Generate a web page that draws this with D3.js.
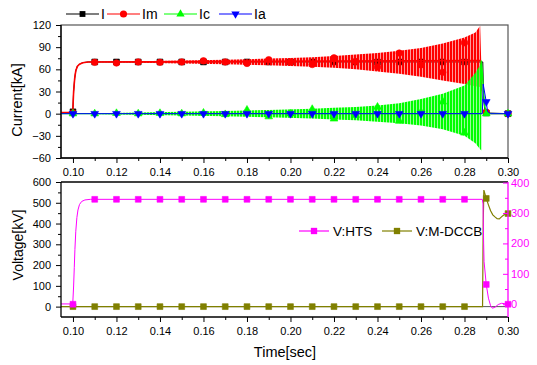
<!DOCTYPE html>
<html>
<head>
<meta charset="utf-8">
<script src="https://cdn.jsdelivr.net/npm/d3@7/dist/d3.min.js"></script>
<style>
html, body { margin: 0; padding: 0; background: #fff; }
svg { display: block; font-family: "Liberation Sans", Arial, sans-serif; }
</style>
</head>
<body>
<svg id="chart" width="537" height="365"></svg>
<script>
// ---------- data ----------
// sample times of the plotted markers [s]
const markerTimes = [0.10,0.11,0.12,0.13,0.14,0.15,0.16,0.17,0.18,0.19,0.20,0.21,0.22,0.23,0.24,0.25,0.26,0.27,0.28,0.29,0.30];
const timeTicks   = [0.10,0.12,0.14,0.16,0.18,0.20,0.22,0.24,0.26,0.28,0.30];
const timeMinor   = [0.11,0.13,0.15,0.17,0.19,0.21,0.23,0.25,0.27,0.29];
const currentTicks = [-60,-30,0,30,60,90,120];
const voltageTicks = [0,100,200,300,400,500,600];
const htsTicks     = [0,100,200,300,400];

// current markers [kA]
const iMarkers  = [2.5,70,70,70,70,70,70,70,70,70,70,70,70,70,70,70,70,70,70,1,0];
const imMarkers = [1,69.5,68.6,70,69.5,70,71.5,70,68,73,70,66.5,75.5,70.5,63,82,66,56,96,2,0];
const icMarkers = [0,0,0.5,0,0.5,0,1,-1,5,-4,0,6,-7,-2,9,-10,2,16,-26,0,0];
const iaMarkers = [0,0,0,0,0,0,0,0,0,0,0,0,0,0,0,0,0,0,0,16,0];

// total current I [kA]
const iTime = [0.0945,0.0999,0.1003,0.1008,0.1013,0.102,0.103,0.1045,0.107,0.11,0.2884,0.2888,0.2895,0.30];
const iVal  = [1.5,1.5,30,48,58,64,67,69,70,70,70,20,1,0];

// Im: mean trace, oscillation envelope and tail [kA]
const imTime = [0.0945,0.0999,0.1003,0.1008,0.1013,0.102,0.103,0.1045,0.107,0.11,0.2872];
const imVal  = [1.5,1.5,30,48,58,64,67,69,70,70,72];
const imEnvTime  = [0.11,0.13,0.15,0.17,0.19,0.20,0.21,0.22,0.23,0.24,0.25,0.26,0.27,0.28,0.285,0.2872,0.2878,0.2885];
const imEnvUpper = [70.5,71,72,73,74.5,75.5,76.5,78,80,82,85,89,95,103,110,119,60,5];
const imEnvLower = [69.5,69,68,67,65.5,64.5,63.5,62,60,57,54,50,45,40,37,36,30,5];
const imTailTime = [0.2885,0.289,0.29,0.2915,0.30];
const imTailVal  = [5,3,2,0,0];

// Ic: envelope, mean trace and tail [kA]
const icEnvTime  = [0.10,0.13,0.15,0.17,0.19,0.21,0.22,0.23,0.24,0.25,0.26,0.27,0.28,0.285,0.2872,0.2877];
const icEnvUpper = [0,1.5,2.5,3.5,5,6.5,8,9,11,14,20,27,38,55,66,72];
const icEnvLower = [0,-1.5,-2.5,-3.5,-5,-6.5,-8,-9,-11,-13,-16,-21,-30,-40,-48,-50];
const icTime = [0.0945,0.2875,0.2877,0.2882,0.2887,0.2893,0.29,0.291,0.30];
const icVal  = [0,0,72,55,30,10,2,0,0];

// Ia [kA]
const iaTime = [0.0945,0.2882,0.2886,0.29,0.2906,0.292,0.30];
const iaVal  = [0,0,40,16,3,0,0];

// voltages [kV]
const htsTime = [0.0945,0.0999,0.1003,0.1006,0.1009,0.1013,0.1018,0.1023,0.103,0.104,0.1055,0.108,0.11,0.2882,0.2885,0.2888,0.289,0.29,0.291,0.292,0.2928,0.294,0.2955,0.297,0.2985,0.30];
const htsVal  = [1,1,60,120,180,240,285,310,328,338,343,345,345,345,330,200,140,65,20,-5,-13,-10,-1,3,2,0];
const htsMarkers = [0,345,345,345,345,345,345,345,345,345,345,345,345,345,345,345,345,345,345,65,0];

const dccbTime = [0.0945,0.2883,0.2886,0.2889,0.29,0.291,0.292,0.293,0.294,0.295,0.296,0.297,0.298,0.30];
const dccbVal  = [0,0,400,561,521,490,462,442,432,423,422,432,441,448];
const dccbMarkers = [0,0,0,0,0,0,0,0,0,0,0,0,0,0,0,0,0,0,0,521,448];

// ---------- setup ----------
const svg = d3.select("#chart");
const zip = (a, b) => a.map((v, i) => [v, b[i]]);

const L = 61, R = 508;
const x = d3.scaleLinear().domain([0.0945, 0.30]).range([L, R]);
const yCur  = d3.scaleLinear().domain([-60, 120]).range([158, 25]);
const yVolt = d3.scaleLinear().domain([-50, 600]).range([317, 182]);
const yHts  = d3.scaleLinear().domain([-42, 402]).range([317, 182]);

const COL = { I: "#000000", Im: "#ff0000", Ic: "#00ff00", Ia: "#0000ff", hts: "#ff00ff", dccb: "#808000" };

// stripe patterns used to render the dense oscillation bands
const defs = svg.append("defs");
[["stripeIm", COL.Im], ["stripeIc", COL.Ic]].forEach(([id, c]) => {
  const p = defs.append("pattern").attr("id", id).attr("patternUnits", "userSpaceOnUse")
    .attr("width", 3).attr("height", 10);
  p.append("rect").attr("x", 0).attr("y", 0).attr("width", 2.4).attr("height", 10).attr("fill", c);
});

function styleAxis(g, size) {
  g.selectAll("text").attr("font-size", size || 11).attr("fill", "#000");
  g.selectAll("line").attr("stroke", "#000");
}

function drawXAxis(yPos) {
  const gMaj = svg.append("g").attr("transform", `translate(0,${yPos})`)
    .call(d3.axisBottom(x).tickValues(timeTicks).tickSize(5).tickPadding(5).tickFormat(d3.format(".2f")));
  gMaj.select(".domain").remove();
  styleAxis(gMaj);
  const gMin = svg.append("g").attr("transform", `translate(0,${yPos})`)
    .call(d3.axisBottom(x).tickValues(timeMinor).tickSize(3).tickFormat(""));
  gMin.select(".domain").remove();
  styleAxis(gMin);
  svg.append("line").attr("x1", L).attr("x2", R).attr("y1", yPos).attr("y2", yPos)
    .attr("stroke", "#000").attr("stroke-width", 1.3);
}

function drawYAxis(scale, ticks, minorStep, xPos, side, color) {
  const axisFn = side === "left" ? d3.axisLeft : d3.axisRight;
  const dir = side === "left" ? 1 : -1; // right axis ticks point inward
  const gMaj = svg.append("g").attr("transform", `translate(${xPos},0)`)
    .call(axisFn(scale).tickValues(ticks).tickSize(5 * dir).tickPadding(side === "left" ? 5 : 3));
  gMaj.select(".domain").remove();
  gMaj.selectAll("text").attr("font-size", 11).attr("fill", color);
  gMaj.selectAll("line").attr("stroke", color);
  const minor = [];
  for (let v = ticks[0] + minorStep; v < ticks[ticks.length - 1]; v += 2 * minorStep) minor.push(v);
  const gMin = svg.append("g").attr("transform", `translate(${xPos},0)`)
    .call(axisFn(scale).tickValues(minor).tickSize(3 * dir).tickFormat(""));
  gMin.select(".domain").remove();
  gMin.selectAll("line").attr("stroke", color);
  const r = scale.range();
  svg.append("line").attr("x1", xPos).attr("x2", xPos).attr("y1", r[0]).attr("y2", r[1])
    .attr("stroke", color).attr("stroke-width", 1.3);
}

function marker(g, type, pts, xs, ys, color, size, rotate) {
  g.selectAll(null).data(pts).enter().append("path")
    .attr("d", d3.symbol().type(type).size(size))
    .attr("transform", d => `translate(${xs(d[0])},${ys(d[1])})${rotate ? " rotate(180)" : ""}`)
    .attr("fill", color).attr("stroke", color).attr("stroke-width", 0.6);
}

function plotLine(g, pts, xs, ys, color, w) {
  g.append("path").datum(pts)
    .attr("d", d3.line().x(d => xs(d[0])).y(d => ys(d[1])))
    .attr("fill", "none").attr("stroke", color).attr("stroke-width", w || 1);
}

function band(g, t, up, lo, ys, fill) {
  const pts = t.map((v, i) => ({ t: v, u: up[i], l: lo[i] }));
  g.append("path").datum(pts)
    .attr("d", d3.area().x(d => x(d.t)).y0(d => ys(d.l)).y1(d => ys(d.u)))
    .attr("fill", fill);
}

// ---------- upper panel: currents ----------
svg.append("rect").attr("x", L).attr("y", 25).attr("width", R - L).attr("height", 133)
  .attr("fill", "none").attr("stroke", "#555").attr("stroke-width", 1.2);

const curG = svg.append("g");
// I
plotLine(curG, zip(iTime, iVal), x, yCur, COL.I, 1);
marker(curG, d3.symbolSquare, zip(markerTimes, iMarkers), x, yCur, COL.I, 34);
// Im
plotLine(curG, zip(imTime, imVal), x, yCur, COL.Im, 1.6);
band(curG, imEnvTime, imEnvUpper, imEnvLower, yCur, "url(#stripeIm)");
plotLine(curG, zip(imTailTime, imTailVal), x, yCur, COL.Im, 1);
marker(curG, d3.symbolCircle, zip(markerTimes, imMarkers), x, yCur, COL.Im, 34);
// Ic
band(curG, icEnvTime, icEnvUpper, icEnvLower, yCur, "url(#stripeIc)");
plotLine(curG, zip(icTime, icVal), x, yCur, COL.Ic, 1.4);
marker(curG, d3.symbolTriangle, zip(markerTimes, icMarkers), x, yCur, COL.Ic, 26);
// Ia
plotLine(curG, zip(iaTime, iaVal), x, yCur, COL.Ia, 1);
marker(curG, d3.symbolTriangle, zip(markerTimes, iaMarkers), x, yCur, COL.Ia, 26, true);

drawXAxis(158);
drawYAxis(yCur, currentTicks, 15, L, "left", "#000");

// legend (currents)
const legTop = [
  { name: "I",  color: COL.I,  type: d3.symbolSquare,   x0: 66,  rot: false, size: 34 },
  { name: "Im", color: COL.Im, type: d3.symbolCircle,   x0: 107, rot: false, size: 40 },
  { name: "Ic", color: COL.Ic, type: d3.symbolTriangle, x0: 164, rot: false, size: 30 },
  { name: "Ia", color: COL.Ia, type: d3.symbolTriangle, x0: 219, rot: true,  size: 30 }
];
legTop.forEach(d => {
  const g = svg.append("g").attr("transform", `translate(${d.x0},14)`);
  g.append("line").attr("x1", 0).attr("x2", 33).attr("stroke", d.color).attr("stroke-width", 1.2);
  g.append("path").attr("d", d3.symbol().type(d.type).size(d.size)())
    .attr("transform", `translate(16.5,0)${d.rot ? " rotate(180)" : ""}`).attr("fill", d.color);
  g.append("text").attr("x", 35).attr("y", 5).attr("font-size", 14).text(d.name);
});

svg.append("text").attr("transform", "translate(22,100) rotate(-90)")
  .attr("text-anchor", "middle").attr("font-size", 14.5).text("Current[kA]");

// ---------- lower panel: voltages ----------
svg.append("line").attr("x1", L).attr("x2", R).attr("y1", 182).attr("y2", 182)
  .attr("stroke", "#000").attr("stroke-width", 1.3);

const voltG = svg.append("g");
// reference trace at zero
voltG.append("line").attr("x1", L).attr("x2", R).attr("y1", yVolt(0)).attr("y2", yVolt(0))
  .attr("stroke", "#555").attr("stroke-width", 1);
// V:M-DCCB (left axis)
plotLine(voltG, zip(dccbTime, dccbVal), x, yVolt, COL.dccb, 1.2);
marker(voltG, d3.symbolSquare, zip(markerTimes, dccbMarkers), x, yVolt, COL.dccb, 34);
// V:HTS (right axis)
plotLine(voltG, zip(htsTime, htsVal), x, yHts, COL.hts, 1);
marker(voltG, d3.symbolSquare, zip(markerTimes, htsMarkers), x, yHts, COL.hts, 34);

drawXAxis(317);
drawYAxis(yVolt, voltageTicks, 50, L, "left", "#000");
drawYAxis(yHts, htsTicks, 50, R, "right", COL.hts);

// legend (voltages)
const legBot = [
  { name: "V:HTS",    color: COL.hts,  x0: 299 },
  { name: "V:M-DCCB", color: COL.dccb, x0: 382 }
];
legBot.forEach(d => {
  const g = svg.append("g").attr("transform", `translate(${d.x0},231)`);
  g.append("line").attr("x1", 0).attr("x2", 30).attr("stroke", d.color).attr("stroke-width", 1.2);
  g.append("path").attr("d", d3.symbol().type(d3.symbolSquare).size(40)())
    .attr("transform", "translate(15,0)").attr("fill", d.color);
  g.append("text").attr("x", 34).attr("y", 5).attr("font-size", 13.5).text(d.name);
});

svg.append("text").attr("transform", "translate(23,245) rotate(-90)")
  .attr("text-anchor", "middle").attr("font-size", 14).text("Voltage[kV]");
svg.append("text").attr("x", 285).attr("y", 357)
  .attr("text-anchor", "middle").attr("font-size", 14.5).text("Time[sec]");
</script>
</body>
</html>
